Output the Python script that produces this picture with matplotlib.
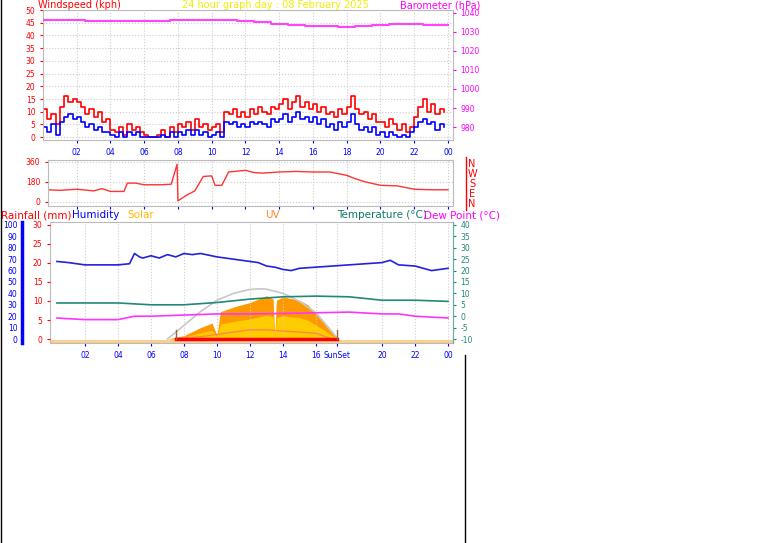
import matplotlib
matplotlib.use('Agg')
import matplotlib.pyplot as plt
import numpy as np

plt.rcParams['axes.unicode_minus'] = False
W, H = 761, 543

# wind, 15 minute steps
wind_t = np.arange(96) / 4
gust = [11,7,9,5, 12,16,14,15, 14,12,9,11, 8,10,6,7, 3,2,4,1, 5,3,4,2, 1,0,0,1, 3,0,4,2,
        5,4,6,3, 7,4,5,3, 4,5,2,10, 9,11,8,10, 8,11,9,12, 10,9,12,11, 13,15,11,14, 16,12,14,11,
        13,10,12,9, 10,8,11,9, 12,16,11,9, 10,7,9,6, 6,4,7,5, 3,5,2,4, 8,12,15,10, 13,9,11,10]
avg = [4,2,5,1, 6,8,9,7, 8,6,4,5, 3,4,2,2, 1,0,2,0, 2,1,2,0, 0,0,0,0, 1,0,2,0,
       2,1,3,1, 3,1,2,0, 1,2,0,6, 5,6,4,5, 4,6,5,6, 5,4,7,6, 7,9,6,8, 10,7,8,6,
       8,5,7,4, 5,3,6,4, 6,9,5,3, 4,2,4,1, 2,0,2,1, 0,1,0,2, 4,6,7,5, 6,3,5,4]
baro_t = list(range(25))
baro = [1036.5,1036.3,1036,1035.6,1035.5,1035.5,1035.5,1035.8,1036,1036.3,1036.3,1036,1035.8,
        1035,1034.3,1033.5,1033.3,1033,1032.8,1033.3,1033.8,1034.3,1034.3,1033.8,1033.7]

dir_t = [0.3,1,2,3,3.5,4,4.8,5,5.5,6,7,7.6,7.95,8.0,8.5,9,9.5,10,10.2,10.6,11,12,12.5,13,14,15,16,17,18,18.5,19,20,21,22,23,24]
dir_v = [110,105,115,100,120,95,95,170,170,155,155,160,340,10,60,100,230,235,150,150,270,285,265,260,270,275,270,270,240,210,185,150,145,115,110,110]

hum_t = [0.3,1,2,3,4,4.7,5,5.3,5.5,6,6.5,7,7.5,8,8.5,9,10,11,12,12.5,13,13.5,14,14.5,15,16,17,18,19,20,20.5,21,22,22.5,23,24]
hum = [68,67,65,65,65,66,75,72,71,73,71,74,72,75,74,75,72,70,68,67,64,63,61,60,62,63,64,65,66,67,69,65,64,62,60,62]
temp_t = [0.3,2,4,6,8,10,12,14,16,18,20,22,24]
temp = [5.8,5.8,5.8,5,5,6,7.5,8.5,8.8,8.5,7,7,6.5]
dew_t = [0.3,2,4,5,6,8,10,12,14,16,18,20,21,22,24]
dew = [-0.8,-1.5,-1.5,0,0,0.5,1,1,1.2,1.5,1.8,1,1,0,-0.8]
solar_t = [7,8,9,9.7,10,10.2,11,12,13,13.4,13.5,13.6,14,15,15.5,16,17,17.3]
solar = [0,3,10,14,3,24,28,32,38,35,2,34,37,34,30,22,5,0]
arc_t = [7,8,9,10,11,12,12.7,13,14,15,16,17,17.3]
arc = [0,12,24,34,40,43.5,44,43.7,40,33,23,6,0]
uv_t = [7.5,9,10,11,12,13,14,15,16,17]
uv = [0.5,2,4,6,8,8,7,6,5,0]
sunrise, sunset = 7.5, 17.3

fig = plt.figure(figsize=(W/100, H/100), dpi=100)

def box(l, t, r, b):
    return fig.add_axes([l/W, 1-b/H, (r-l)/W, (b-t)/H])

def style(ax):
    ax.grid(True, color='#cccccc', ls=':', lw=0.8)
    for s in ax.spines.values():
        s.set_color('#bbbbbb')
    ax.tick_params(labelsize=5.5, length=2, colors='red')
    ax.tick_params(axis='x', colors='blue')

hours = list(range(2, 25, 2))
hour_lbl = ['%02d' % (h % 24) for h in hours]

# top: wind + barometer
ax1 = box(43, 10, 453, 140)
style(ax1)
ax1.step(wind_t, gust, where='post', color='red', lw=1.2)
ax1.step(wind_t, avg, where='post', color='blue', lw=1.2)
ax1.set_xlim(0, 24.3)
ax1.set_ylim(-1.1, 49.5)
ax1.set_yticks(range(0, 51, 5))
ax1.set_xticks(hours)
ax1.set_xticklabels(hour_lbl)
ax1b = ax1.twinx()
ax1b.plot(baro_t, baro, color='#ff44ff', lw=1.5, drawstyle='steps-mid')
ax1b.set_ylim(973.2, 1041.5)
ax1b.set_yticks(range(980, 1041, 10))
ax1b.tick_params(labelsize=5.5, length=2, colors='#ff00ff')
for s in ax1b.spines.values():
    s.set_visible(False)

# wind direction
ax2 = box(48, 160, 453, 206)
style(ax2)
ax2.plot(dir_t, dir_v, color='#ff3333', lw=1)
ax2.set_xlim(0.3, 24.3)
ax2.set_ylim(-36, 378)
ax2.set_yticks([0, 180, 360])
ax2.set_xticks(hours)
ax2.set_xticklabels([])
for i, c in enumerate('NWSEN'):
    fig.text(472/W, 1-(164+i*10)/H, c, color='red', fontsize=7, ha='center', va='center')
fig.add_artist(plt.Line2D([466/W]*2, [1-157/H, 1-210/H], color='red', lw=1))

# bottom: humidity / temps / solar
ax3 = box(50, 222, 453, 343)
style(ax3)
ax3.fill_between(solar_t, solar, color='#ff9900', lw=0)
ax3.fill_between(solar_t, np.array(solar)*0.55, color='#ffcc00', lw=0)
ax3.plot(arc_t, arc, color='#c8c8c8', lw=1.2)
ax3.plot(uv_t, uv, color='#ff8844', lw=1)
ax3.plot(hum_t, hum, color='#2222dd', lw=1.2)
ax3.axhspan(-3.5, -0.5, color='#f8d090', lw=0)
ax3.plot([sunrise, sunset], [0, 0], color='red', lw=2.5)
for s in (sunrise, sunset):
    ax3.plot([s, s], [0, 8], color='#996633', lw=1)
ax3.set_xlim(-0.12, 24.3)
ax3.set_ylim(-3.5, 102.6)
ax3.set_yticks([])
ticks3 = [2, 4, 6, 8, 10, 12, 14, 16, sunset, 20, 22, 24]
ax3.set_xticks(ticks3)
ax3.set_xticklabels(['02','04','06','08','10','12','14','16','SunSet','20','22','00'])
axt = ax3.twinx()
axt.plot(temp_t, temp, color='#228877', lw=1.2)
axt.plot(dew_t, dew, color='#ff33ff', lw=1.2)
axt.set_ylim(-10-3.5*0.5, 40+2.6*0.5)
axt.set_yticks(range(-10, 41, 5))
axt.tick_params(labelsize=5.5, length=2, colors='#228877')
for s in axt.spines.values():
    s.set_visible(False)
axt.spines['right'].set_visible(True)
axt.spines['right'].set_color('#66aaaa')
# rainfall axis (left, red) and humidity axis (far left, blue)
axr = ax3.twinx()
axr.yaxis.tick_left()
axr.set_ylim(-3.5*0.3, 102.6*0.3)
axr.set_yticks(range(0, 31, 5))
axr.tick_params(labelsize=5.5, length=2, colors='red')
for s in axr.spines.values():
    s.set_visible(False)
axh = ax3.twinx()
axh.yaxis.tick_left()
axh.spines['left'].set_position(('outward', 20))
axh.spines['left'].set_visible(True)
axh.spines['left'].set_color('blue')
axh.spines['left'].set_linewidth(2.5)
axh.spines['right'].set_visible(False)
axh.spines['top'].set_visible(False)
axh.spines['bottom'].set_visible(False)
axh.set_ylim(-3.5, 102.6)
axh.set_yticks(range(0, 101, 10))
axh.tick_params(labelsize=5.5, length=0, colors='blue')

# headers
def head(x, y, s, c, ha='left', fs=7.5):
    fig.text(x/W, 1-y/H, s, color=c, fontsize=fs, ha=ha, va='center')
head(38, 5, 'Windspeed (kph)', 'red', fs=7)
head(275, 5, '24 hour graph day : 08 February 2025', '#eeee00', 'center', fs=7)
head(400, 5, 'Barometer (hPa)', '#ff00ff', fs=7)
head(1, 215, 'Rainfall (mm)', 'red')
head(72, 215, 'Humidity', 'blue')
head(127, 215, 'Solar', '#ffbb00')
head(272, 215, 'UV', '#ff8833', 'center')
head(337, 215, 'Temperature (°C)', '#117766')
head(424, 215, 'Dew Point (°C)', '#ff00ff')

fig.add_artist(plt.Line2D([0.5/W]*2, [0, 1], color='black', lw=1))
fig.add_artist(plt.Line2D([465/W]*2, [1-355/H, 0], color='black', lw=1))

fig.savefig('out.png', dpi=100, facecolor='white')
